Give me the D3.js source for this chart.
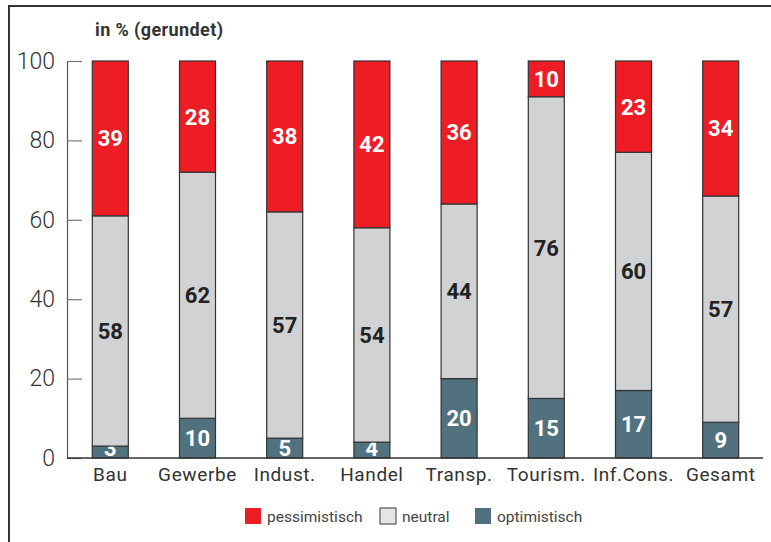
<!DOCTYPE html>
<html>
<head>
<meta charset="utf-8">
<script src="https://cdn.jsdelivr.net/npm/d3@7"></script>
<style>
  body { margin: 0; background: #fff; }
  text { font-family: Roboto, "DejaVu Sans", sans-serif; }
</style>
</head>
<body>
<svg id="viz" width="771" height="542"></svg>
<script>
// data (in %, rounded)
const categories  = ["Bau", "Gewerbe", "Indust.", "Handel", "Transp.", "Tourism.", "Inf.Cons.", "Gesamt"];
const optimistic  = [3, 10, 5, 4, 20, 15, 17, 9];
const neutral     = [58, 62, 57, 54, 44, 76, 60, 57];
const pessimistic = [39, 28, 38, 42, 36, 10, 23, 34];
const yTicks      = [0, 20, 40, 60, 80, 100];
const seriesNames = ["optimistisch", "neutral", "pessimistisch"];
const legendOrder = ["pessimistisch", "neutral", "optimistisch"];

const COLORS = { optimistisch: "#52717f", neutral: "#d1d2d4", pessimistisch: "#ee1d25" };
const LABEL_FILL = { optimistisch: "#fff", neutral: "#222", pessimistisch: "#fff" };

const svg = d3.select("#viz");

// outer frame (left + top)
svg.append("path")
  .attr("d", "M9,542V6H771")
  .attr("fill", "none").attr("stroke", "#333").attr("stroke-width", 2);

const x = d3.scaleBand()
  .domain(categories)
  .range([67, 764])
  .paddingInner(0.587)
  .paddingOuter(0.29);

const y = d3.scaleLinear().domain([0, 100]).range([458, 61]).clamp(true);

// stacked table
const table = categories.map((c, i) => ({
  cat: c, optimistisch: optimistic[i], neutral: neutral[i], pessimistisch: pessimistic[i]
}));
const stacked = d3.stack().keys(seriesNames)(table);

// y axis (ticks inward)
const gy = svg.append("g").attr("transform", `translate(${x.range()[0]},0)`)
  .call(d3.axisRight(y).tickValues(yTicks).tickSize(15).tickSizeOuter(0).tickFormat(d3.format("d")));
gy.select(".domain").attr("stroke", "#555").attr("stroke-width", 1.2);
gy.selectAll(".tick line").attr("stroke", "#777").attr("stroke-width", 1.2);
gy.selectAll(".tick text")
  .attr("x", -12).attr("text-anchor", "end")
  .attr("font-size", 23).attr("font-weight", 300)
  .attr("fill", "#333").style("font-family", "Roboto, sans-serif");

// bars
const layers = svg.append("g").selectAll("g.layer")
  .data(stacked).join("g").attr("class", "layer");

layers.selectAll("rect")
  .data(s => s.map(d => ({ key: s.key, d })))
  .join("rect")
    .attr("x", o => x(o.d.data.cat))
    .attr("width", x.bandwidth())
    .attr("y", o => y(o.d[1]))
    .attr("height", o => y(o.d[0]) - y(o.d[1]))
    .attr("fill", o => COLORS[o.key])
    .attr("stroke", "#333").attr("stroke-width", 1.2);

// segment labels, centred; tiny bottom segments keep their label above the axis
layers.selectAll("text")
  .data(s => s.map(d => ({ key: s.key, d })))
  .join("text")
    .attr("x", o => x(o.d.data.cat) + x.bandwidth() / 2)
    .attr("y", o => Math.min((y(o.d[0]) + y(Math.min(o.d[1], 100))) / 2, y(0) - 10))
    .attr("dy", "0.36em")
    .attr("text-anchor", "middle")
    .attr("font-size", 22).attr("font-weight", 700)
    .attr("fill", o => LABEL_FILL[o.key])
    .text(o => o.d.data[o.key]);

// x axis
const gx = svg.append("g").attr("transform", `translate(0,${y(0)})`)
  .call(d3.axisBottom(x).tickSize(0).tickSizeOuter(0));
gx.select(".domain").attr("d", `M${x.range()[0]},0H763`).attr("stroke", "#333").attr("stroke-width", 1.5);
gx.selectAll(".tick text")
  .attr("dy", 0).attr("y", 23)
  .attr("font-size", 19).attr("fill", "#333")
  .style("letter-spacing", "0.6px")
  .style("font-family", "Roboto, sans-serif");

// title
svg.append("text")
  .attr("x", 95).attr("y", 36)
  .attr("font-size", 18).attr("font-weight", 700).attr("fill", "#333")
  .style("letter-spacing", "0.4px")
  .text("in % (gerundet)");

// legend
const legendX = d3.scalePoint().domain(legendOrder).range([245, 475]);
const legendOffsets = { pessimistisch: 0, neutral: 20, optimistisch: 0 };
const lg = svg.append("g").selectAll("g")
  .data(legendOrder).join("g")
  .attr("transform", k => `translate(${legendX(k) + legendOffsets[k]},508)`);
lg.append("rect")
  .attr("width", 16).attr("height", 16)
  .attr("fill", k => k === "neutral" ? "#e4e5e7" : COLORS[k])
  .attr("stroke", k => k === "neutral" ? "#555" : "none")
  .attr("stroke-width", 1.2);
lg.append("text")
  .attr("x", 22).attr("y", 14)
  .attr("font-size", 15.5).attr("fill", "#444")
  .text(k => k);
</script>
</body>
</html>
